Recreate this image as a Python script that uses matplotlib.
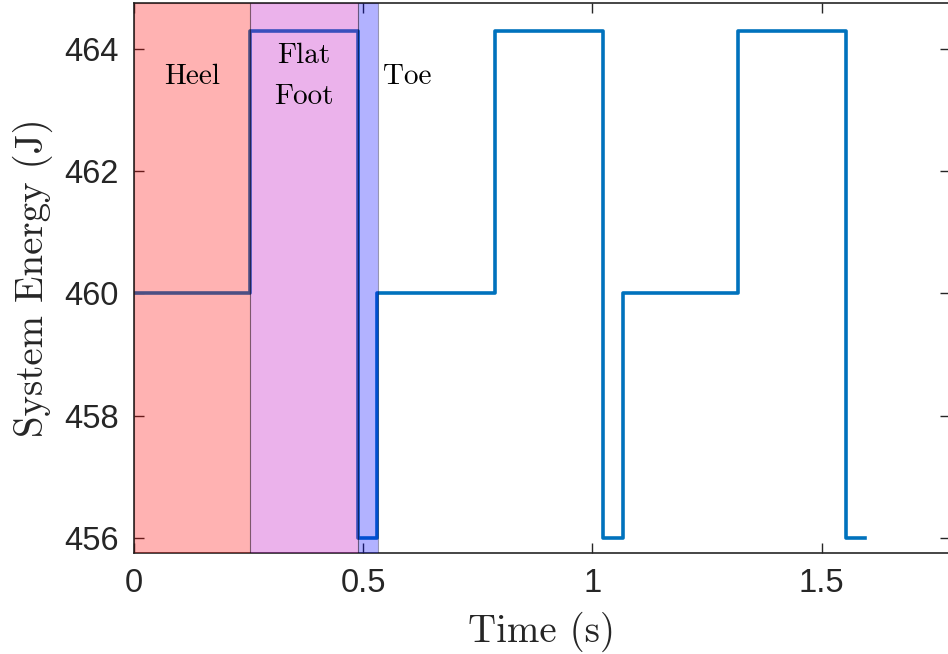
import matplotlib
matplotlib.use("Agg")
import matplotlib.pyplot as plt
import numpy as np

# Step-wise system energy over one and a half gait cycles
t_steps = [0.0, 0.253, 0.489, 0.531, 0.787, 1.024, 1.067, 1.317, 1.553, 1.595]
energy = [460.0, 464.3, 456.0, 460.0, 464.3, 456.0, 460.0, 464.3, 456.0, 456.0]

# Gait phases of the first step
phase_names = ["Heel", "Flat\nFoot", "Toe"]
phase_start = [0.0, 0.253, 0.489]
phase_end = [0.253, 0.489, 0.533]
phase_colors = [(1.0, 0.0, 0.0), (0.75, 0.0, 0.75), (0.0, 0.0, 1.0)]
label_x = [0.127, 0.371, 0.597]
label_y = [463.55, 463.55, 463.55]

xticks = [0, 0.5, 1, 1.5]
xtick_labels = ["0", "0.5", "1", "1.5"]
yticks = [456, 458, 460, 462, 464]

fig = plt.figure(figsize=(9.48, 6.54), dpi=100)
ax = fig.add_axes([0.1414, 0.1544, 0.8586 + 0.002, 0.8410])

ax.step(t_steps, energy, where="post", color="#0072BD", lw=2.6, zorder=2)

for s, e, c in zip(phase_start, phase_end, phase_colors):
    ax.axvspan(s, e, facecolor=c, alpha=0.3, edgecolor=(0, 0, 0, 0.35),
               lw=0.8, zorder=3)

for name, x, y in zip(phase_names, label_x, label_y):
    ax.text(x, y, name, ha="center", va="center", family="cmr10",
            fontsize=21, linespacing=1.75, zorder=4)

ax.set_xlim(0, 1.78)
ax.set_ylim(455.75, 464.75)
ax.set_xticks(xticks)
ax.set_xticklabels(xtick_labels)
ax.set_yticks(yticks)

for lab in ax.get_xticklabels() + ax.get_yticklabels():
    lab.set_family("Liberation Sans")
    lab.set_fontsize(23.5)
    lab.set_color("#262626")

ax.tick_params(direction="in", length=7, width=1.0, color="#262626",
               top=True, right=True, pad=11)
for side in ["left", "bottom", "top"]:
    ax.spines[side].set_color("#262626")
    ax.spines[side].set_linewidth(1.2)
ax.spines["right"].set_visible(False)

ax.set_xlabel("Time (s)", family="cmr10", fontsize=28, color="#262626",
              labelpad=9)
ax.set_ylabel("System Energy (J)", family="cmr10", fontsize=28,
              color="#262626", labelpad=8)

fig.savefig("out.png", dpi=100)
